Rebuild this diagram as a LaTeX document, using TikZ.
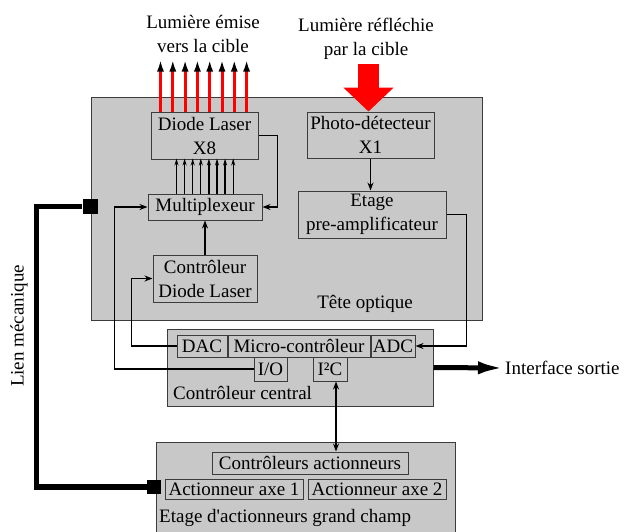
\documentclass[tikz,border=0pt]{standalone}
\usepackage{fontspec}
\setmainfont{Liberation Serif}
\usepackage{xcolor}
\usetikzlibrary{arrows.meta, positioning, calc}
\definecolor{boxgray}{RGB}{200,200,200}
\definecolor{boxline}{RGB}{60,60,60}
\definecolor{rayred}{RGB}{255,0,0}

\begin{document}
\begin{tikzpicture}[x=1pt, y=-1pt,
    every node/.style={font=\fontsize{19}{24}\selectfont, inner sep=0pt},
    box/.style={rectangle, draw=boxline, line width=1pt, fill=boxgray, align=center},
    zone/.style={rectangle, draw=boxline, line width=1pt, fill=boxgray},
    conn/.style={line width=1.8pt, black},
    arrow/.style={conn, -{Stealth[length=8pt, width=6pt]}},
    bus/.style={line width=1.3pt, -{Stealth[length=7pt, width=4pt]}},
    ray/.style={line width=3pt, rayred, -{Latex[black, length=12pt, width=7pt]}},
    mech/.style={line width=5.5pt, black},
    plug/.style={rectangle, fill=black, minimum size=15pt}
]
\clip (0,0) rectangle (634,531);
\fill[white] (0,0) rectangle (634,531);

% Tete optique
\node[zone, minimum width=391pt, minimum height=223pt] (tete) at (286.5,208.5) {};
\node (tetelbl) at (365,304) {Tête optique};
\node[box, minimum width=107pt, minimum height=47pt] (diode) at (204.5,135.5) {Diode Laser\\X8};
\node[box, minimum width=127pt, minimum height=46pt] (photo) at (370.5,135) {Photo-détecteur\\X1};
\node[box, minimum width=148pt, minimum height=47pt] (etage) at (372,214.5) {Etage\\pre-amplificateur};
\node[box, minimum width=114pt, minimum height=26pt] (mux) at (205,207) {Multiplexeur};
\node[box, minimum width=104pt, minimum height=47pt] (ctrld) at (205,278.5) {Contrôleur\\Diode Laser};

% Controleur central
\node[zone, minimum width=266pt, minimum height=77pt] (central) at (300,367.5) {};
\node[anchor=west] (centrallbl) at (173,393) {Contrôleur central};
\node[box, minimum width=142pt, minimum height=22pt] (micro) at (299,346) {Micro-contrôleur};
\node[box, minimum width=50pt, minimum height=22pt, left=0pt of micro] (dac) {DAC};
\node[box, minimum width=44pt, minimum height=22pt, right=0pt of micro] (adc) {ADC};
\node[box, minimum width=33pt, minimum height=24pt] (io) at (270.5,369) {I/O};
\node[box, minimum width=34pt, minimum height=24pt] (i2c) at (330,369) {I²C};

% Etage d'actionneurs
\node[zone, minimum width=299pt, minimum height=100pt] (etageact) at (305.5,492) {};
\node[box, minimum width=196pt, minimum height=22pt] (ctrlact) at (310,463) {Contrôleurs actionneurs};
\node[box, minimum width=138pt, minimum height=20pt] (axe1) at (234,489) {Actionneur axe 1};
\node[box, minimum width=138pt, minimum height=20pt, right=4pt of axe1] (axe2) {Actionneur axe 2};
\node[anchor=west] (etageactlbl) at (159,518) {Etage d\textquotesingle actionneurs grand champ};

% textes exterieurs
\node[align=center] (emise) at (203,34) {Lumière émise\\vers la cible};
\node[align=center] (reflechie) at (366,39) {Lumière réfléchie\\par la cible};
\node[anchor=west] (sortie) at (505,368) {Interface sortie};
\node[rotate=90] (lien) at (19,326) {Lien mécanique};

% lien mecanique
\node[plug] (plughaut) at (90,206.5) {};
\node[plug, minimum size=14pt] (plugbas) at (154,487) {};
\draw[mech] (plughaut.west) -- ++(-46,0) |- (plugbas.west);

% faisceaux
\foreach \i in {0,...,7}
    \draw[ray] ([xshift={10pt+12.3pt*\i}]diode.north west) -- ++(0,-52);
\draw[rayred, line width=21pt, -{Triangle[length=24pt, width=49pt]}]
    ([xshift=-2pt, yshift=48pt]photo.north) -- ([xshift=-2pt]photo.north);

% connexions
\foreach \i in {0,...,7}
    \draw[bus] ([xshift={29pt+8.1pt*\i}]mux.north west) -- ++(0,-35);
\draw[arrow] (diode.east) -- ++(19,0) |- (mux.east);
\draw[arrow] (ctrld.north) -- (mux.south);
\draw[arrow] (photo.south) -- (photo.south |- etage.north);
\draw[arrow] (etage.east) -- ++(20,0) |- (adc.east);
\draw[arrow] (dac.west) -- ++(-45,0) |- (ctrld.west);
\draw[arrow] (io.west) -- ++(-139,0) |- (mux.west);
\draw[conn, {Stealth[length=8pt, width=6pt]}-{Stealth[length=8pt, width=6pt]}]
    ([xshift=6pt]i2c.south) -- ([xshift=6pt]i2c.south |- ctrlact.north);
\draw[line width=5pt, -{Latex[length=27pt, width=13pt]}] (central.east) -- (sortie.west);
\end{tikzpicture}
\end{document}
